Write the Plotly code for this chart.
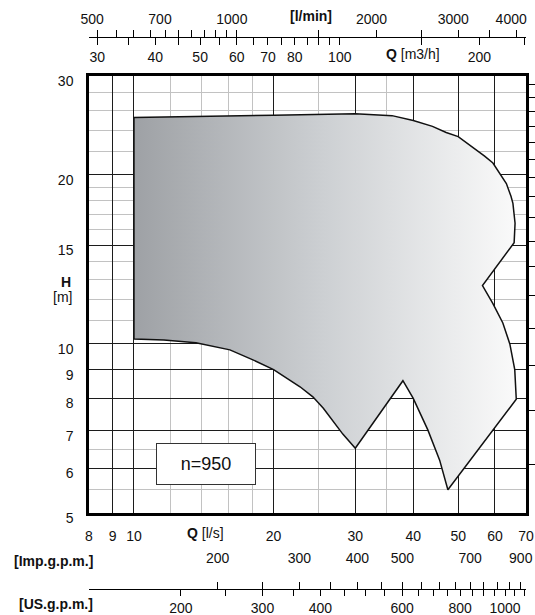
import math
import plotly.graph_objects as go

# ---------------- data ----------------
# main axes
q_ticks = [8, 9, 10, 20, 30, 40, 50, 60, 70]          # Q [l/s]
q_minor = [12, 14, 16, 18, 25, 35]
h_ticks = [5, 6, 7, 8, 9, 10, 15, 20, 30]             # H [m]
h_minor = [5.5, 6.5, 11, 12, 13, 14, 16, 17, 18, 19, 22, 24, 26, 28]

# secondary scales
lmin_ticks = [500, 550, 600, 650, 700, 750, 800, 850, 900, 950, 1000,
              1500, 2000, 2500, 3000, 3500, 4000]
lmin_labels = [500, 700, 1000, 2000, 3000, 4000]
m3h_ticks = [30, 35, 40, 45, 50, 55, 60, 65, 70, 75, 80, 85, 90, 95, 100,
             150, 200, 250]
m3h_labels = [30, 40, 50, 60, 70, 80, 100, 200]
imp_ticks = [200, 250, 300, 350, 400, 450, 500, 550, 600, 650, 700, 750,
             800, 850, 900]
imp_labels = [200, 300, 400, 500, 700, 900]
us_ticks = [200, 250, 300, 350, 400, 450, 500, 550, 600, 650, 700, 750,
            800, 850, 900, 950, 1000, 1050, 1100]
us_labels = [200, 300, 400, 600, 800, 1000]
ft_ticks = [20, 25, 30, 35, 40, 45, 50, 55, 60, 65, 70, 75, 80, 85, 90, 95]

# operating field outline (Q [l/s], H [m])
field_q = [10.0, 10.0, 20.0, 30.0, 36.0, 40.0, 44.0, 47.1, 50.0, 53.8, 57.0,
           59.4, 61.9, 63.5, 65.0, 65.6, 66.3, 66.0, 56.4, 59.4, 62.4, 64.6,
           66.2, 66.7, 47.5, 45.6, 43.0, 40.0, 38.0, 30.0, 28.2, 26.9, 25.6,
           24.3, 22.8, 20.0, 18.1, 16.1, 13.6, 11.6, 10.0]
field_h = [10.2, 25.3, 25.55, 25.7, 25.5, 25.0, 24.4, 23.8, 23.4, 22.4, 21.6,
           21.0, 20.0, 19.3, 18.3, 17.8, 16.4, 15.15, 12.7, 11.8, 10.9, 10.0,
           9.0, 7.97, 5.5, 6.21, 7.03, 8.0, 8.6, 6.52, 6.91, 7.27, 7.68,
           8.05, 8.39, 9.0, 9.36, 9.76, 10.05, 10.16, 10.2]
speed_label = "n=950"

# unit conversions from l/s and m
TO_LMIN = 60.0
TO_M3H = 3.6
TO_IMP = 60.0 / 4.54609
TO_US = 60.0 / 3.785411784
TO_FT = 3.28084

Q_MIN, Q_MAX = 8, 70
H_MIN, H_MAX = 5, 30

# ---------------- layout geometry ----------------
W, HGT = 535, 615
ML, MR, MT, MB = 89, 9, 10, 10
PH = HGT - MT - MB
PW = W - ML - MR


def py(p):
    """pixel row -> paper y"""
    return (HGT - MB - p) / PH


def px(p):
    return (p - ML) / PW


FONT = "Liberation Sans, Arial, sans-serif"
INK = "#111111"
EPS = 1e-6

fig = go.Figure()

fig.add_trace(go.Scatter(
    x=field_q, y=field_h, mode="lines", fill="toself",
    fillgradient=dict(type="horizontal",
                      colorscale=[[0, "#9ea1a5"], [0.5, "#cdd0d3"], [1, "#fafafa"]]),
    line=dict(color=INK, width=1.5), hoverinfo="skip", showlegend=False))

# invisible companions so every secondary scale has a trace
for ax, f in (("x2", TO_LMIN), ("x3", TO_M3H), ("x4", TO_IMP), ("x5", TO_US)):
    fig.add_trace(go.Scatter(x=[q * f for q in field_q], y=field_h, xaxis=ax,
                             yaxis="y", mode="lines", line=dict(width=0),
                             opacity=0, hoverinfo="skip", showlegend=False))
fig.add_trace(go.Scatter(x=field_q, y=[h * TO_FT for h in field_h], xaxis="x",
                         yaxis="y2", mode="lines", line=dict(width=0),
                         opacity=0, hoverinfo="skip", showlegend=False))


def lrange(a, b):
    return [math.log10(a) - EPS, math.log10(b) + EPS]


def labels(ticks, shown):
    return [str(t) if t in shown else "" for t in ticks]


tickfont = dict(family=FONT, size=14, color=INK)
y_dom = [py(513), py(76)]

common = dict(automargin=False, zeroline=False, fixedrange=True)

fig.update_layout(
    width=W, height=HGT, margin=dict(l=ML, r=MR, t=MT, b=MB, autoexpand=False),
    paper_bgcolor="white", plot_bgcolor="white",
    font=dict(family=FONT, size=14, color=INK),
    showlegend=False,
    xaxis=dict(type="log", range=lrange(Q_MIN, Q_MAX), anchor="y",
               tickmode="array", tickvals=q_ticks,
               ticktext=[str(t) for t in q_ticks], ticks="",
               ticklabelstandoff=8, tickfont=tickfont,
               showgrid=True, gridcolor="#1c1c1c", gridwidth=1.2,
               minor=dict(tickmode="array", tickvals=q_minor, showgrid=True,
                          gridcolor="#c2c2c2", gridwidth=1, ticks=""),
               showline=True, mirror=True, linecolor="black", linewidth=2.5,
               **common),
    yaxis=dict(type="log", range=lrange(H_MIN, H_MAX), domain=y_dom,
               anchor="x", tickmode="array", tickvals=h_ticks,
               ticktext=[str(t) for t in h_ticks], ticks="",
               ticklabelstandoff=10, ticklabelshift=5, tickfont=tickfont,
               showgrid=True, gridcolor="#1c1c1c", gridwidth=1.2,
               minor=dict(tickmode="array", tickvals=h_minor, showgrid=True,
                          gridcolor="#c2c2c2", gridwidth=1, ticks=""),
               showline=True, mirror=True, linecolor="black", linewidth=2.5,
               **common),
    yaxis2=dict(type="log", range=lrange(H_MIN * TO_FT, H_MAX * TO_FT),
                overlaying="y", side="right", anchor="x",
                tickmode="array", tickvals=ft_ticks, ticks="outside",
                ticklen=8, tickwidth=1, tickcolor="black",
                showticklabels=False, showgrid=False, showline=False,
                **common),
    xaxis2=dict(type="log", range=lrange(Q_MIN * TO_LMIN, Q_MAX * TO_LMIN),
                overlaying="x", anchor="free", position=py(37), side="top",
                tickmode="array", tickvals=lmin_ticks,
                ticktext=labels(lmin_ticks, lmin_labels),
                ticks="outside", ticklen=7, tickwidth=1, tickcolor="black",
                ticklabelstandoff=0, ticklabelshift=-5, tickfont=tickfont,
                showgrid=False, showline=True, linecolor="black", linewidth=1,
                **common),
    xaxis3=dict(type="log", range=lrange(Q_MIN * TO_M3H, Q_MAX * TO_M3H),
                overlaying="x", anchor="free", position=py(37), side="bottom",
                tickmode="array", tickvals=m3h_ticks,
                ticktext=labels(m3h_ticks, m3h_labels),
                ticks="outside", ticklen=7, tickwidth=1, tickcolor="black",
                ticklabelstandoff=0, tickfont=tickfont,
                showgrid=False, showline=True, linecolor="black", linewidth=1,
                **common),
    xaxis4=dict(type="log", range=lrange(Q_MIN * TO_IMP, Q_MAX * TO_IMP),
                overlaying="x", anchor="free", position=py(589), side="top",
                tickmode="array", tickvals=imp_ticks,
                ticktext=labels(imp_ticks, imp_labels),
                ticks="outside", ticklen=7, tickwidth=1, tickcolor="black",
                ticklabelstandoff=13, tickfont=tickfont,
                showgrid=False, showline=True, linecolor="black", linewidth=1,
                **common),
    xaxis5=dict(type="log", range=lrange(Q_MIN * TO_US, Q_MAX * TO_US),
                overlaying="x", anchor="free", position=py(589), side="bottom",
                tickmode="array", tickvals=us_ticks,
                ticktext=labels(us_ticks, us_labels),
                ticks="outside", ticklen=6, tickwidth=1, tickcolor="black",
                ticklabelstandoff=0, tickfont=tickfont,
                showgrid=False, showline=False,
                **common),
)


def note(text, x, y, xanchor="center", size=14, **kw):
    fig.add_annotation(text=text, xref="paper", yref="paper", x=px(x), y=py(y),
                       xanchor=xanchor, yanchor="middle", showarrow=False,
                       font=dict(family=FONT, size=size, color=INK), **kw)


note("<b>Q</b> [l/s]", 205, 533)
note("<b>H</b>", 66, 282)
note("[m]", 62, 297)
note("<b>[l/min]</b>", 311, 16)
note("<b>Q</b> [m3/h]", 413, 54)
note("<b>[Imp.g.p.m.]</b>", 95, 561, xanchor="right")
note("<b>[US.g.p.m.]</b>", 95, 604, xanchor="right")
note(speed_label, 205.5, 463.5, size=18, bgcolor="white",
     bordercolor="#333333", borderwidth=1, borderpad=0, width=98, height=40)

fig.write_html(
    "out.html",
    config={"displayModeBar": False},
    post_script="document.body.style.margin='0px';"
                "document.body.style.overflow='hidden';",
)
